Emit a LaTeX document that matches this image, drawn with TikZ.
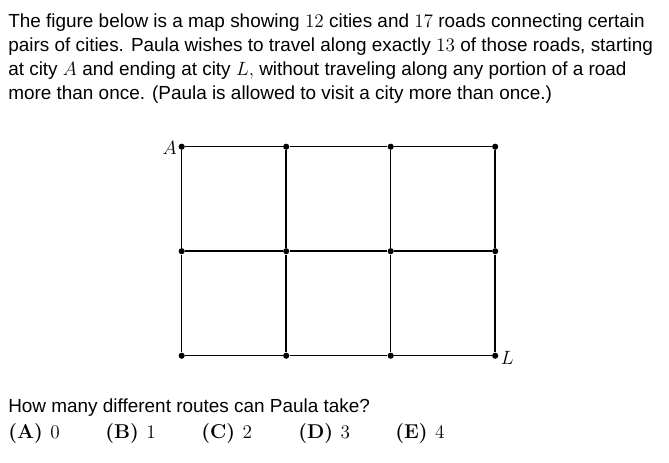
\documentclass[tikz,border=0pt]{standalone}
\usepackage{fontspec}
\setmainfont{Liberation Sans}
\newfontfamily\lmroman{Latin Modern Roman}
\begin{document}
\begin{tikzpicture}[x=0.75pt, y=-0.75pt,
        city/.style={circle, fill, inner sep=0pt, minimum size=4.6pt},
        road/.style={line width=1.1pt},
        txt/.style={anchor=base west, inner sep=0pt, font=\fontsize{14.2}{16}\selectfont},
        ans/.style={anchor=base west, inner sep=0pt, font=\fontsize{15}{16}\lmroman\bfseries}]
    \useasboundingbox (0,0) rectangle (669,462);
    % question text
    \node[txt] (l1) at (8,27) {The figure below is a map showing $12$ cities and $17$ roads connecting certain};
    \node[txt] (l2) at (8,51) {pairs of cities. Paula wishes to travel along exactly $13$ of those roads, starting};
    \node[txt] (l3) at (8,75) {at city $A$ and ending at city $L,$ without traveling along any portion of a road};
    \node[txt] (l4) at (8,99) {more than once. (Paula is allowed to visit a city more than once.)};
    % cities
    \foreach \i in {0,...,3}
        \foreach \j in {0,...,2}
            \node[city] (c\i\j) at (181.7+104.5*\i, 146.7+104.5*\j) {};
    % roads
    \foreach \i in {0,...,3}
        \draw[road] (c\i0) -- (c\i1) -- (c\i2);
    \foreach \j in {0,...,2}
        \draw[road] (c0\j) -- (c1\j) -- (c2\j) -- (c3\j);
    \node[anchor=east, inner sep=1pt, font=\fontsize{15}{16}\selectfont] (A) at ([yshift=-1pt]c00.west) {$A$};
    \node[anchor=west, inner sep=1.5pt, font=\fontsize{15}{16}\selectfont] (L) at ([yshift=-1.5pt]c32.east) {$L$};
    % answer choices
    \node[txt] (q) at (8,412) {How many different routes can Paula take?};
    \node[ans] (a) at (8,438) {(A) \mdseries$0$};
    \node[ans] (b) at (105,438) {(B) \mdseries$1$};
    \node[ans] (c) at (201,438) {(C) \mdseries$2$};
    \node[ans] (d) at (298,438) {(D) \mdseries$3$};
    \node[ans] (e) at (395,438) {(E) \mdseries$4$};
\end{tikzpicture}
\end{document}
